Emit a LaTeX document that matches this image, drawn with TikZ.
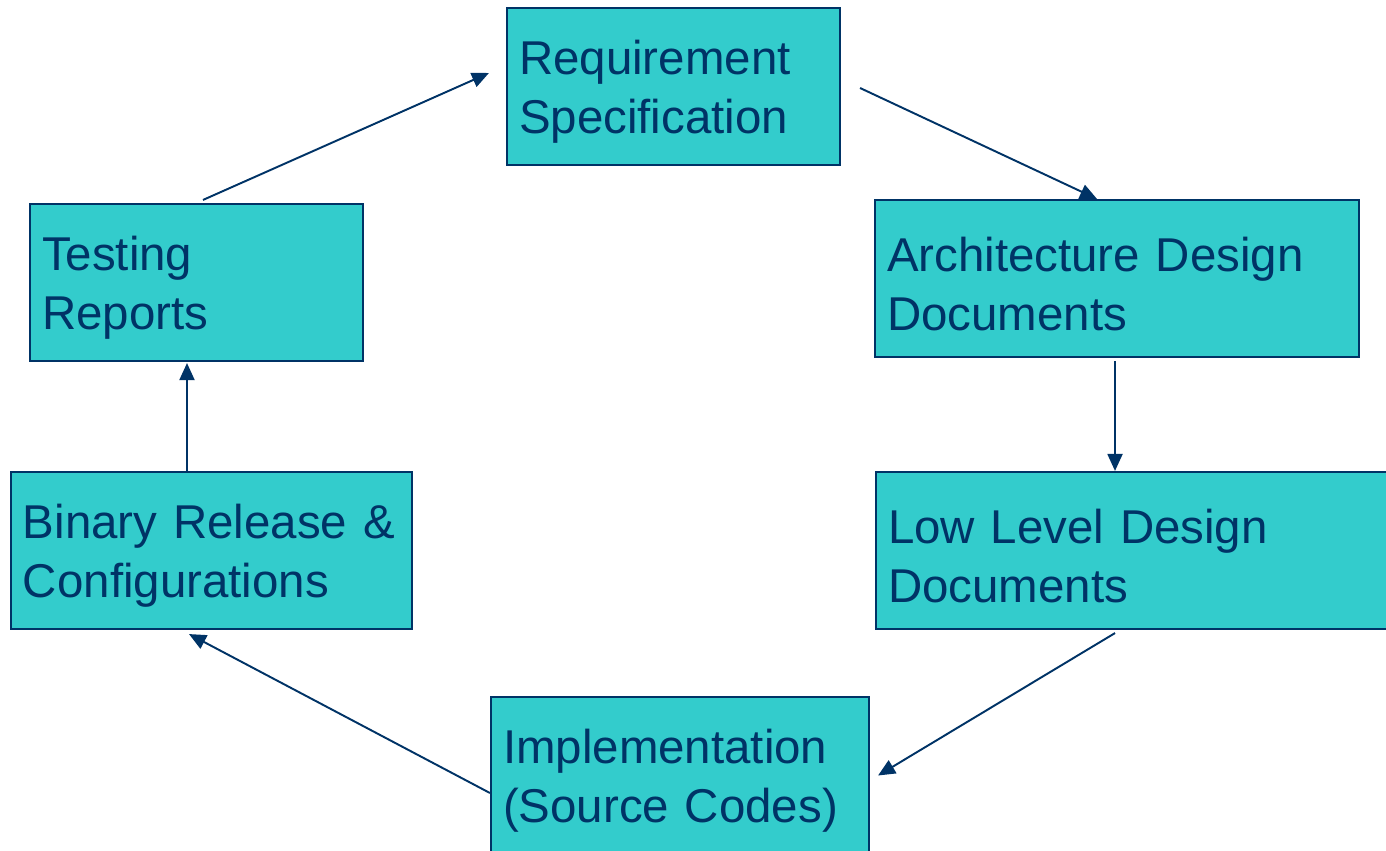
\documentclass[tikz,border=0pt]{standalone}
\usepackage{fontspec}
\setmainfont{Liberation Sans}
\usetikzlibrary{arrows.meta,positioning}
\definecolor{boxfill}{HTML}{33CCCC}
\definecolor{navy}{HTML}{003366}

\tikzset{
    phase/.style={draw=navy, line width=1.2pt, fill=boxfill, text=navy, align=left,
        inner xsep=0.24cm, minimum height=3.14cm, text height=0.9cm,
        font=\fontsize{27}{33.5}\selectfont},
    flow/.style={draw=navy, line width=1.1pt, -{Triangle[length=0.34cm,width=0.3cm]}}
}

\begin{document}
\begin{tikzpicture}
    \useasboundingbox (0,0) rectangle (27.72,-17);
    \node[phase, text width=6.18cm] (req) at (13.47,-1.73) {Requirement\\Specification};
    \node[phase, text width=9.2cm] (arch) at (22.34,-5.57) {Architecture Design\\Documents};
    \node[phase, text width=9.92cm, anchor=west] (low) at (17.5,-11.01) {Low Level Design\\Documents};
    \node[phase, text width=7.08cm] (impl) at (13.6,-15.51) {Implementation\\(Source Codes)};
    \node[phase, text width=7.54cm] (bin) at (4.23,-11.01) {Binary Release \&\\Configurations};
    \node[phase, text width=6.18cm] (test) at (3.93,-5.65) {Testing\\Reports};

    \draw[flow] ([shift={(0.13,0.06)}]test.north) -- ([shift={(-0.34,0.27)}]req.west);
    \draw[flow] ([shift={(0.38,-0.03)}]req.east) -- ([xshift=-0.4cm]arch.north);
    \draw[flow] ([shift={(-0.04,-0.06)}]arch.south) -- ([xshift=-0.04cm]arch.south |- low.north);
    \draw[flow] ([shift={(-0.04,-0.06)}]arch.south |- low.south) -- ([xshift=0.16cm]impl.east);
    \draw[flow] ([yshift=-0.35cm]impl.west) -- ([shift={(-0.45,-0.08)}]bin.south);
    \draw[flow] ([xshift=-0.49cm]bin.north) -- ([shift={(-0.19,-0.02)}]test.south);
\end{tikzpicture}
\end{document}
